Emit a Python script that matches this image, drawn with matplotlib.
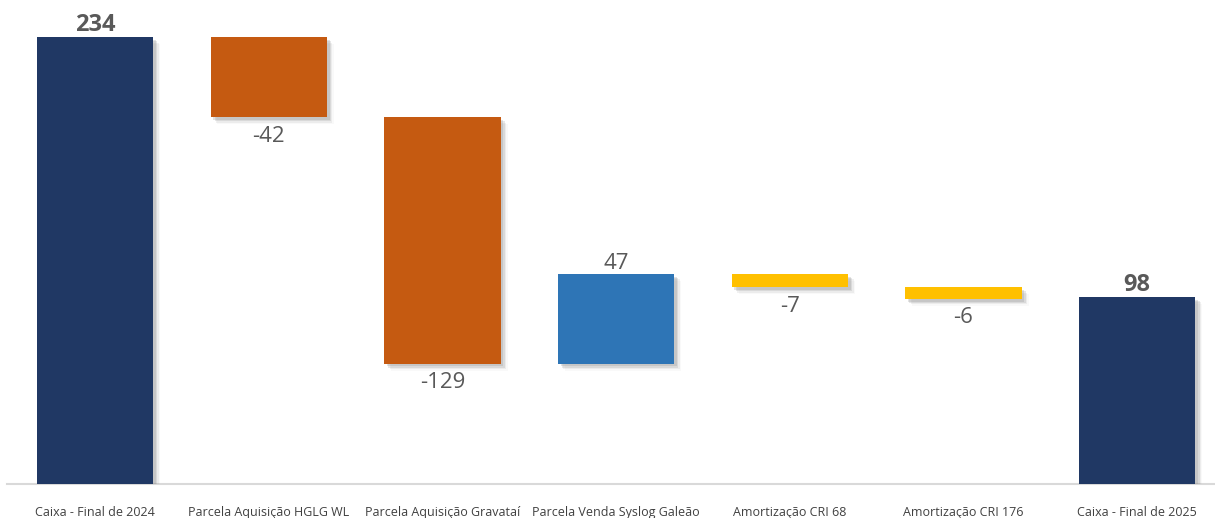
import matplotlib.pyplot as plt
import matplotlib.patheffects as pe
import numpy as np

categories = ['Caixa - Final de 2024', 'Parcela Aquisição HGLG WL', 'Parcela Aquisição Gravataí',
              'Parcela Venda Syslog Galeão', 'Amortização CRI 68', 'Amortização CRI 176',
              'Caixa - Final de 2025']
values = [234, -42, -129, 47, -7, -6, 98]
is_total = [True, False, False, False, False, False, True]

navy = '#203864'
orange = '#C55A11'
blue = '#2E75B6'
yellow = '#FFC000'

plt.rcParams['font.family'] = ['Open Sans', 'DejaVu Sans']

fig = plt.figure(figsize=(12.15, 5.18), dpi=100)
ax = fig.add_axes([0, 34 / 518, 1, 1 - 34 / 518])

px_per_unit = 1.91
ax.set_ylim(0, 484 / px_per_unit)
ax.set_xlim((0 - 95) / 173.7, (1215 - 95) / 173.7)

# soft drop shadow, built from a few stacked offsets
shadow = [pe.SimplePatchShadow(offset=(2, -2), shadow_rgbFace='#808080', alpha=0.22),
          pe.SimplePatchShadow(offset=(3, -3), shadow_rgbFace='#808080', alpha=0.18),
          pe.SimplePatchShadow(offset=(4, -4), shadow_rgbFace='#909090', alpha=0.12),
          pe.SimplePatchShadow(offset=(5, -5), shadow_rgbFace='#a0a0a0', alpha=0.06),
          pe.Normal()]

x = np.arange(len(values))
running = 0
for i, v in enumerate(values):
    if is_total[i]:
        bottom, height = 0, v
        color = navy
        running = v
    else:
        if v < 0:
            color = orange if v < -20 else yellow
            bottom, height = running + v, -v
        else:
            color = blue
            bottom, height = running, v
        running += v
    bar = ax.bar(x[i], height, bottom=bottom, width=0.67, color=color, zorder=3)
    for p in bar:
        p.set_path_effects(shadow)

    if is_total[i]:
        ax.annotate(f'{v}', (x[i], bottom + height), xytext=(0, 0), textcoords='offset points',
                    ha='center', va='bottom', fontsize=17, fontweight='bold', color='#595959')
    elif v > 0:
        ax.annotate(f'{v}', (x[i], bottom + height), xytext=(0, 0), textcoords='offset points',
                    ha='center', va='bottom', fontsize=16, color='#595959')
    else:
        ax.annotate(f'{v}', (x[i], bottom), xytext=(0, -6), textcoords='offset points',
                    ha='center', va='top', fontsize=16, color='#595959')

for s in ['top', 'right', 'left']:
    ax.spines[s].set_visible(False)
ax.spines['bottom'].set_color('#d9d9d9')
ax.spines['bottom'].set_linewidth(1.5)
ax.spines['bottom'].set_bounds((7 - 95) / 173.7, (1215 - 95) / 173.7)
ax.set_yticks([])
ax.set_xticks(x)
ax.set_xticklabels(categories, fontsize=9, color='#404040')
ax.tick_params(axis='x', length=0, pad=16)

fig.savefig('out.png', dpi=100)
